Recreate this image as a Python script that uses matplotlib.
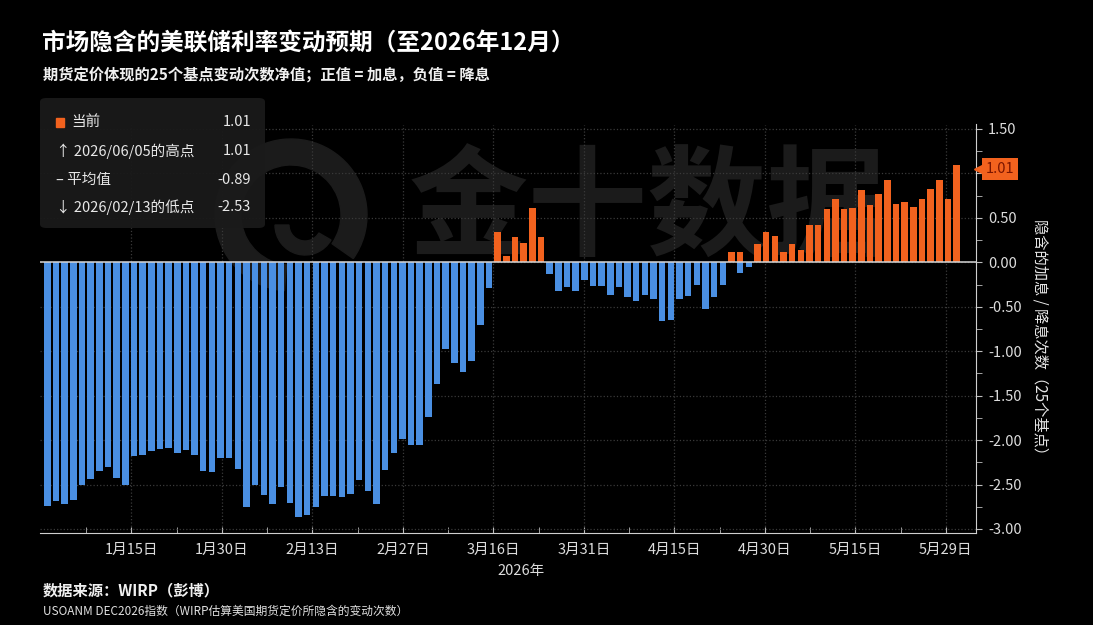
import numpy as np
import matplotlib.pyplot as plt
from matplotlib.patches import FancyBboxPatch, Wedge, Rectangle
from matplotlib.ticker import FuncFormatter
import matplotlib.transforms as mtransforms

plt.rcParams['font.family'] = ['Noto Sans CJK SC', 'DejaVu Sans']
plt.rcParams['axes.unicode_minus'] = False

# net number of 25bp moves priced, one bar per trading day
values = [-2.74, -2.69, -2.72, -2.67, -2.50, -2.44, -2.35, -2.30, -2.43, -2.51,
          -2.18, -2.17, -2.12, -2.10, -2.09, -2.15, -2.11, -2.17, -2.35, -2.36,
          -2.20, -2.20, -2.33, -2.75, -2.51, -2.62, -2.72, -2.53, -2.71, -2.87,
          -2.84, -2.75, -2.63, -2.63, -2.64, -2.61, -2.45, -2.57, -2.72, -2.34,
          -2.15, -1.99, -2.06, -2.06, -1.74, -1.37, -0.97, -1.13, -1.23, -1.11,
          -0.70, -0.29, 0.34, 0.07, 0.28, 0.22, 0.61, 0.28, -0.13, -0.32,
          -0.28, -0.32, -0.20, -0.27, -0.27, -0.37, -0.28, -0.39, -0.44, -0.37,
          -0.41, -0.66, -0.65, -0.41, -0.38, -0.25, -0.52, -0.39, -0.25, 0.12,
          0.12, -0.05, 0.21, 0.34, 0.30, 0.12, 0.21, 0.14, 0.42, 0.42,
          0.60, 0.71, 0.60, 0.61, 0.81, 0.64, 0.77, 0.93, 0.66, 0.68,
          0.62, 0.71, 0.82, 0.93, 0.71, 1.09]
# one day shows a small negative bar under the positive one
extra_idx = [80]
extra_val = [-0.12]

tick_pos = [9.7, 20.15, 30.6, 41.05, 51.5, 61.95, 72.4, 82.85, 93.3, 103.75]
tick_labels = ['1月15日', '1月30日', '2月13日', '2月27日', '3月16日',
               '3月31日', '4月15日', '4月30日', '5月15日', '5月29日']

legend_names = ['当前', '↑ 2026/06/05的高点', '– 平均值', '↓ 2026/02/13的低点']
legend_vals = ['1.01', '1.01', '-0.89', '-2.53']
current = 1.01

blue = '#4A8FE2'
orange = '#F2621E'
W, H = 1093, 625

fig = plt.figure(figsize=(10.93, 6.25), dpi=100, facecolor='black')

# faint watermark behind the chart
fig.text(648 / W, 1 - 212 / H, '金十数据', fontsize=86, fontweight='bold',
         color='#1b1b1b', ha='center', va='center', zorder=-2)
fig.add_artist(Wedge((291, H - 215), 76, -35, 265, width=26, color='#1b1b1b',
                     transform=mtransforms.IdentityTransform(), zorder=-2))
fig.add_artist(Wedge((305, H - 225), 30, 180, 330, width=14, color='#1b1b1b',
                     transform=mtransforms.IdentityTransform(), zorder=-2))

ax = fig.add_axes([40 / W, 1 - 533.4 / H, 935.7 / W, 408.9 / H])
ax.set_facecolor('none')

x = np.arange(len(values))
colors = [orange if v > 0 else blue for v in values]
ax.bar(x, values, width=0.75, color=colors, zorder=3)
ax.bar(extra_idx, extra_val, width=0.75, color=blue, zorder=3)
ax.axhline(0, color='#d5d5d5', lw=1.1, zorder=4)

ax.set_xlim(-0.85, 107.2)
ax.set_ylim(-3.05, 1.55)

ax.yaxis.tick_right()
ax.set_yticks(np.arange(-3, 1.51, 0.5))
ax.set_yticks(np.arange(-3, 1.51, 0.25), minor=True)
# the 1.00 label sits under the current-value tag
ax.yaxis.set_major_formatter(FuncFormatter(lambda v, p: '' if abs(v - 1) < 1e-6 else '%.2f' % v))
ax.tick_params(axis='y', which='both', colors='#bdbdbd', labelcolor='#dcdcdc',
               labelsize=10.5, length=4, direction='out', pad=5)

ax.set_xticks(tick_pos)
ax.set_xticklabels(tick_labels)
mids = [(a + b) / 2 for a, b in zip([-0.75] + tick_pos[:-1], tick_pos)]
ax.set_xticks(mids, minor=True)
ax.tick_params(axis='x', which='both', colors='#bdbdbd', labelcolor='#dcdcdc',
               labelsize=10.5, length=4, direction='in', pad=7)

ax.grid(True, which='major', color='#3a3a3a', ls=':', lw=0.9, zorder=1)
for s in ['top', 'left']:
    ax.spines[s].set_visible(False)
for s in ['right', 'bottom']:
    ax.spines[s].set_color('#cfcfcf')

# current value tag on the right axis
tag_y = 1.05
blend = mtransforms.blended_transform_factory(ax.transAxes, ax.transData)
ax.plot([1.005], [tag_y], marker='<', ms=9, color=orange, transform=blend,
        clip_on=False, zorder=5)
ax.text(1.011, tag_y, '%.2f' % current, transform=blend, ha='left', va='center',
        fontsize=10.5, color='#7a1500', clip_on=False, zorder=6,
        bbox=dict(boxstyle='square,pad=0.25', fc=orange, ec='none'))

fig.text(1040 / W, 1 - 341 / H, '隐含的加息 / 降息次数（25个基点）', rotation=270,
         ha='center', va='center', fontsize=11, color='#e6e6e6')

# titles
fig.text(42 / W, 1 - 43 / H, '市场隐含的美联储利率变动预期（至2026年12月）',
         fontsize=17, fontweight='bold', color='white', ha='left', va='center')
fig.text(43 / W, 1 - 75 / H, '期货定价体现的25个基点变动次数净值；正值 = 加息，负值 = 降息',
         fontsize=11, fontweight='bold', color='#f0f0f0', ha='left', va='center')

# legend box
fig.add_artist(FancyBboxPatch((40 / W, 1 - 228 / H), 225 / W, 130 / H,
                              boxstyle='round,pad=0,rounding_size=0.006',
                              transform=fig.transFigure, fc='#1a1a1a', ec='none',
                              alpha=0.95, zorder=1))
rows_y = [122, 151, 180, 207]
for i, (name, val) in enumerate(zip(legend_names, legend_vals)):
    yy = 1 - rows_y[i] / H
    if i == 0:
        fig.add_artist(Rectangle((56 / W, yy - 4.5 / H), 8 / W, 9 / H,
                                 transform=fig.transFigure, color=orange, zorder=2))
        fig.text(71 / W, yy, name, fontsize=10.5, color='#e8e8e8', ha='left',
                 va='center', zorder=3)
    else:
        fig.text(56 / W, yy, name, fontsize=10.5, color='#e8e8e8', ha='left',
                 va='center', zorder=3)
    fig.text(251 / W, yy, val, fontsize=10.5, color='#e8e8e8', ha='right',
             va='center', zorder=3)

fig.text(521 / W, 1 - 571 / H, '2026年', fontsize=10.5, color='#dcdcdc',
         ha='center', va='center')
fig.text(43 / W, 1 - 590 / H, '数据来源：WIRP（彭博）', fontsize=11,
         fontweight='bold', color='#f0f0f0', ha='left', va='center')
fig.text(43 / W, 1 - 611 / H, 'USOANM DEC2026指数（WIRP估算美国期货定价所隐含的变动次数）',
         fontsize=8.5, color='#e0e0e0', ha='left', va='center')

fig.savefig('out.png', dpi=100, facecolor='black')
